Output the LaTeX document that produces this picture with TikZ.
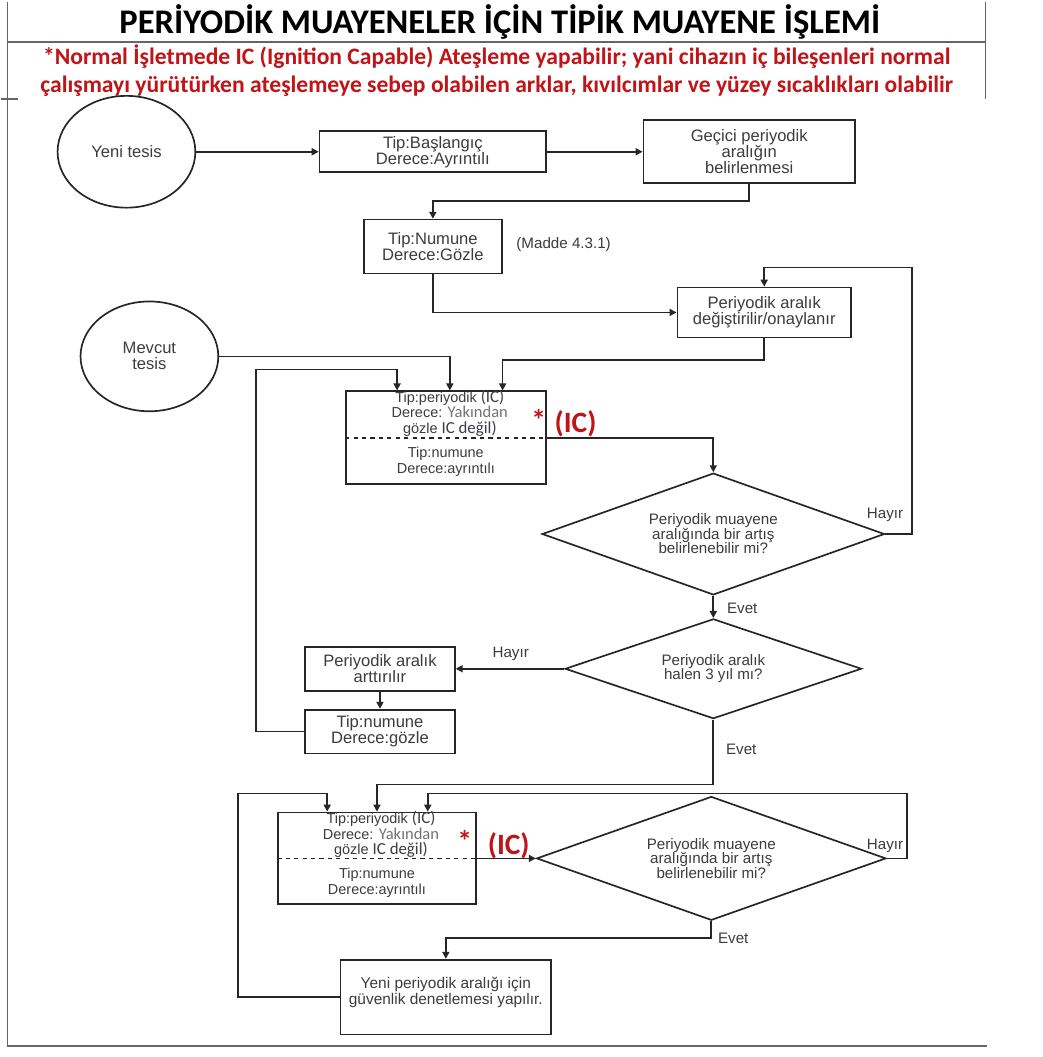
\documentclass[tikz,border=0pt]{standalone}
\usepackage{fontspec}
\setmainfont{Liberation Sans}
\newfontfamily\carlito{Carlito}
\usepackage{xcolor}
\usetikzlibrary{shapes.geometric,arrows.meta,calc}
\definecolor{icred}{RGB}{192,20,24}
\definecolor{flowtext}{RGB}{60,60,60}
\definecolor{ictext}{RGB}{58,60,72}
\newcommand\icnote[1]{{\carlito\fontsize{12pt}{12pt}\selectfont\color{ictext}#1}}
\newcommand\icsoft[1]{{\carlito\fontsize{11.8pt}{11.8pt}\selectfont\color{black!55}#1}}
\newcommand\tightlines{\lineskiplimit=-20pt\relax}

\begin{document}
\begin{tikzpicture}[x=0.025cm,y=-0.025cm,
  box/.style={draw=black!85, line width=1.2pt, rectangle, inner sep=1pt, align=center, text=flowtext, font=\fontsize{11.8pt}{11.4pt}\selectfont},
  oval/.style={draw=black!85, line width=1.2pt, ellipse, inner sep=0pt, align=center, text=flowtext, font=\fontsize{11.8pt}{11.4pt}\selectfont},
  ask/.style={draw=black!85, line width=1.2pt, diamond, inner sep=0pt, aspect=2.8, align=center, text=flowtext, font=\fontsize{10.8pt}{10.3pt}\selectfont},
  lbl/.style={text=flowtext, inner sep=0pt, font=\fontsize{10.8pt}{11pt}\selectfont},
  splittxt/.style={text=flowtext, inner sep=0pt, align=center, font=\fontsize{10.3pt}{11.3pt}\selectfont\tightlines},
  arr/.style={draw=black!85, line width=1.2pt, -{Triangle[length=5pt,width=5pt]}},
  wire/.style={draw=black!85, line width=1.2pt},
  frame/.style={draw=black!60, line width=1pt},
  icmark/.style={text=icred, inner sep=0pt, font=\carlito\bfseries\fontsize{21pt}{21pt}\selectfont}]
\fill[white] (0,0) rectangle (1044,1057);
\draw[frame] (7,0) -- (7,1046) -- (988,1046);
\draw[frame] (7,40) -- (987,40);
\draw[frame] (987,0) -- (987,97);
\draw[frame] (0,97) -- (17,97);
\node[font=\carlito\bfseries\fontsize{24.6pt}{24.6pt}\selectfont] (title) at (500,20) {PERİYODİK MUAYENELER İÇİN TİPİK MUAYENE İŞLEMİ};
\node[text=icred, align=center, font=\carlito\bfseries\fontsize{16.8pt}{19.8pt}\selectfont] (note) at (497,69) {*Normal İşletmede IC (Ignition Capable) Ateşleme yapabilir; yani cihazın iç bileşenleri normal\\çalışmayı yürütürken ateşlemeye sebep olabilen arklar, kıvılcımlar ve yüzey sıcaklıkları olabilir};

\node[oval, minimum width=3.45cm, minimum height=2.8cm] (yeni) at (126,150) {Yeni tesis};
\node[box, minimum width=5.675cm, minimum height=1.025cm] (basl) at (433,150) {Tip:Başlangıç\\Derece:Ayrıntılı};
\node[box, minimum width=5.3cm, minimum height=1.575cm] (gecici) at (750,150) {Geçici periyodik\\aralığın\\belirlenmesi};
\node[box, minimum width=3.45cm, minimum height=1.35cm] (numune) at (433,245) {Tip:Numune\\Derece:Gözle};
\node[lbl] (madde) at (564,243) {(Madde 4.3.1)};
\node[box, minimum width=4.35cm, minimum height=1.25cm] (degis) at (765,311) {Periyodik aralık\\değiştirilir/onaylanır};
\node[oval, minimum width=3.45cm, minimum height=2.75cm] (mevcut) at (149,355) {Mevcut\\tesis};

\node[box, minimum width=5cm, minimum height=2.325cm] (per1) at (446,436.5) {};
\node[splittxt] (per1up) at (450,412) {Tip:periyodik \icnote{(IC)}\\Derece: \icsoft{Yakından}\\gözle \icnote{IC değil)}};
\node[splittxt] (per1lo) at (446,461) {Tip:numune\\Derece:ayrıntılı};
\node[icmark] (star1) at (539,419) {*};
\node[icmark] (ic1) at (576,423) {(IC)};

\node[ask, minimum width=8.575cm, minimum height=3.05cm] (dia1) at (714,533) {Periyodik muayene\\aralığında bir artış\\belirlenebilir mi?};
\node[ask, aspect=3, minimum width=7.425cm, minimum height=2.5cm] (dia2) at (714,668) {Periyodik aralık\\halen 3 yıl mı?};
\node[box, minimum width=3.75cm, minimum height=1.1cm] (arttir) at (380,668) {Periyodik aralık\\arttırılır};
\node[box, minimum width=3.75cm, minimum height=1.1cm] (numgoz) at (380,731) {Tip:numune\\Derece:gözle};

\node[box, minimum width=4.95cm, minimum height=2.3cm] (per2) at (377,858) {};
\node[splittxt] (per2up) at (381,834) {Tip:periyodik \icnote{(IC)}\\Derece: \icsoft{Yakından}\\gözle \icnote{IC değil)}};
\node[splittxt] (per2lo) at (377,882) {Tip:numune\\Derece:ayrıntılı};
\node[icmark] (star2) at (465,841) {*};
\node[icmark] (ic2) at (509,845) {(IC)};

\node[ask, minimum width=8.75cm, minimum height=3.1cm] (dia3) at (712,858) {Periyodik muayene\\aralığında bir artış\\belirlenebilir mi?};
\node[box, minimum width=5.275cm, minimum height=1.875cm, text depth=9pt, font=\fontsize{11pt}{11.4pt}\selectfont] (yenip) at (446,997) {Yeni periyodik aralığı için\\güvenlik denetlemesi yapılır.};

\node[lbl] (hayir1) at (886,514) {Hayır};
\node[lbl] (evet1) at (743,607) {Evet};
\node[lbl] (hayir2) at (511,653) {Hayır};
\node[lbl] (evet2) at (742,749) {Evet};
\node[lbl] (hayir3) at (886,845) {Hayır};
\node[lbl] (evet3) at (734,938) {Evet};

\coordinate (hy1) at (913,266);
\coordinate (lp1) at (256,368);
\coordinate (hy3) at (908,793);
\coordinate (lp2) at (238,793);

\draw[arr] (yeni.east) -- (basl.west);
\draw[arr] (basl.east) -- (gecici.west);
\draw[arr] (gecici.south) -- ++(0,17) -| (numune.north);
\draw[arr] (numune.south) |- (degis.west);
\draw[arr] (degis.south) -- ++(0,22) -| ($(per1.north east)+(-44,0)$);
\draw[arr] (mevcut.east) -| ($(per1.north)+(4,0)$);
\draw[arr] (numgoz.west) -| (lp1) -| ($(per1.north west)+(52,0)$);
\draw[wire, dashed] (per1.west) -- (per1.east);
\draw[arr] (per1.east) -| (dia1.north);
\draw[arr] (dia1.east) -| (hy1) -| (degis.north);
\draw[arr] (dia1.south) -- (dia2.north);
\draw[arr] (dia2.west) -- (arttir.east);
\draw[arr] (arttir.south) -- (numgoz.north);
\draw[arr] (dia2.south) -- ++(0,65) -| (per2.north);
\draw[wire, dashed] (per2.west) -- (per2.east);
\draw[arr] (per2.east) -- (dia3.west);
\draw[arr] (dia3.east) -| (hy3) -| ($(per2.north east)+(-49,0)$);
\draw[arr] (dia3.south) -- ++(0,17) -| (yenip.north);
\draw[arr] (yenip.west) -| (lp2) -| ($(per2.north west)+(50,0)$);
\end{tikzpicture}
\end{document}
